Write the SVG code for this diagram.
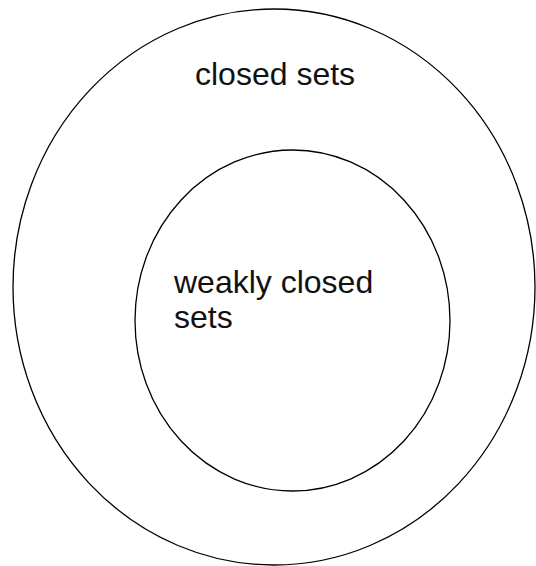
<svg xmlns="http://www.w3.org/2000/svg" width="536" height="566" viewBox="0 0 536 566">
<style>
.set{fill:none;stroke:#000;stroke-width:1.3}
.lbl{font-family:"Liberation Sans",Arial,sans-serif;font-size:32px;fill:#111}
</style>
<rect width="536" height="566" fill="#fff"/>
<g id="closed-sets">
<ellipse class="set" cx="274" cy="287" rx="261" ry="278"/>
<text class="lbl" x="195" y="85">closed sets</text>
</g>
<g id="weakly-closed-sets">
<ellipse class="set" cx="292.5" cy="320.5" rx="157.5" ry="170.5"/>
<text class="lbl" x="174" y="293">weakly closed</text>
<text class="lbl" x="174" y="328">sets</text>
</g>
<g id="connectors"></g>
</svg>
